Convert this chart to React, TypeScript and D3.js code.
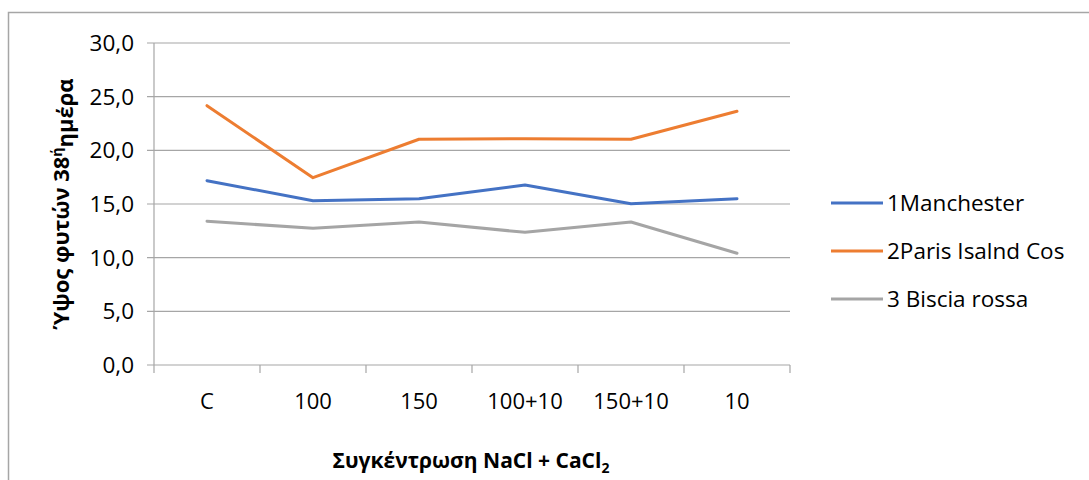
import React from "react";
import * as d3 from "d3";

const categories = ["C", "100", "150", "100+10", "150+10", "10"];
const manchester = [17.17, 15.31, 15.49, 16.77, 15.03, 15.49];
const paris = [24.16, 17.45, 21.03, 21.08, 21.03, 23.64];
const biscia = [13.39, 12.74, 13.32, 12.36, 13.32, 10.41];
const yTicks = [0, 5, 10, 15, 20, 25, 30];

const seriesNames = ["1Manchester", "2Paris Isalnd Cos", "3 Biscia rossa"];
const seriesColors = ["#4472C4", "#ED7D31", "#A5A5A5"];

const FONT = "'Open Sans', 'Noto Sans', sans-serif";

export default function App() {
  const W = 1089;
  const H = 480;
  const left = 154;
  const right = 790;
  const top = 43;
  const bottom = 365;

  const x = d3.scaleBand<string>().domain(categories).range([left, right]).padding(0);
  const y = d3.scaleLinear().domain([0, 30]).range([bottom, top]);
  const line = d3
    .line<number>()
    .x((_, i) => (x(categories[i]) as number) + x.bandwidth() / 2)
    .y((d) => y(d));

  const series = [manchester, paris, biscia];
  const gridColor = "#A6A6A6";

  return (
    <div style={{ position: "absolute", left: 0, top: 0 }}>
      <svg width={W} height={H} style={{ display: "block", background: "#fff" }}>
        <rect x={8.5} y={12.5} width={1200} height={600} fill="#fff" stroke="#A6A6A6" strokeWidth={1.5} />
        {yTicks.map((t) => (
          <line key={"g" + t} x1={left - 7} x2={right} y1={y(t)} y2={y(t)} stroke={gridColor} strokeWidth={1.2} />
        ))}
        <line x1={left} x2={left} y1={top} y2={bottom} stroke={gridColor} strokeWidth={1.2} />
        {[...categories.map((c) => x(c) as number), right].map((px, i) => (
          <line key={"xt" + i} x1={px} x2={px} y1={bottom} y2={bottom + 8} stroke={gridColor} strokeWidth={1.2} />
        ))}
        {yTicks.map((t) => (
          <text key={"yl" + t} x={134} y={y(t)} dy="0.35em" textAnchor="end" fontFamily={FONT} fontSize={22.5} fill="#000">
            {t.toFixed(1).replace(".", ",")}
          </text>
        ))}
        {categories.map((c) => (
          <text key={"xl" + c} x={(x(c) as number) + x.bandwidth() / 2} y={401} dy="0.35em" textAnchor="middle" fontFamily={FONT} fontSize={22} fill="#000">
            {c}
          </text>
        ))}
        {series.map((s, i) => (
          <path key={"s" + i} d={line(s) as string} fill="none" stroke={seriesColors[i]} strokeWidth={3} strokeLinejoin="round" strokeLinecap="round" />
        ))}
        {seriesNames.map((n, i) => (
          <g key={"lg" + i} transform={`translate(0, ${203 + i * 48})`}>
            <line x1={831} x2={883} y1={0} y2={0} stroke={seriesColors[i]} strokeWidth={3} />
            <text x={887} y={0} dy="0.35em" fontFamily={FONT} fontSize={22.5} fill="#000">{n}</text>
          </g>
        ))}
        <text transform={`translate(61, ${(top + bottom) / 2}) rotate(-90)`} textAnchor="middle" dy="0.35em" fontFamily={FONT} fontSize={22} fontWeight="bold" fill="#000">
          Ύψος φυτών 38<tspan dy="-0.5em" fontSize={14}>ή</tspan><tspan dy="0.5em">ημέρα</tspan>
        </text>
        <text x={471} y={461} textAnchor="middle" dy="0.35em" fontFamily={FONT} fontSize={21} fontWeight="bold" fill="#000">
          Συγκέντρωση NaCl + CaCl<tspan dy="0.35em" fontSize={14}>2</tspan>
        </text>
      </svg>
    </div>
  );
}
